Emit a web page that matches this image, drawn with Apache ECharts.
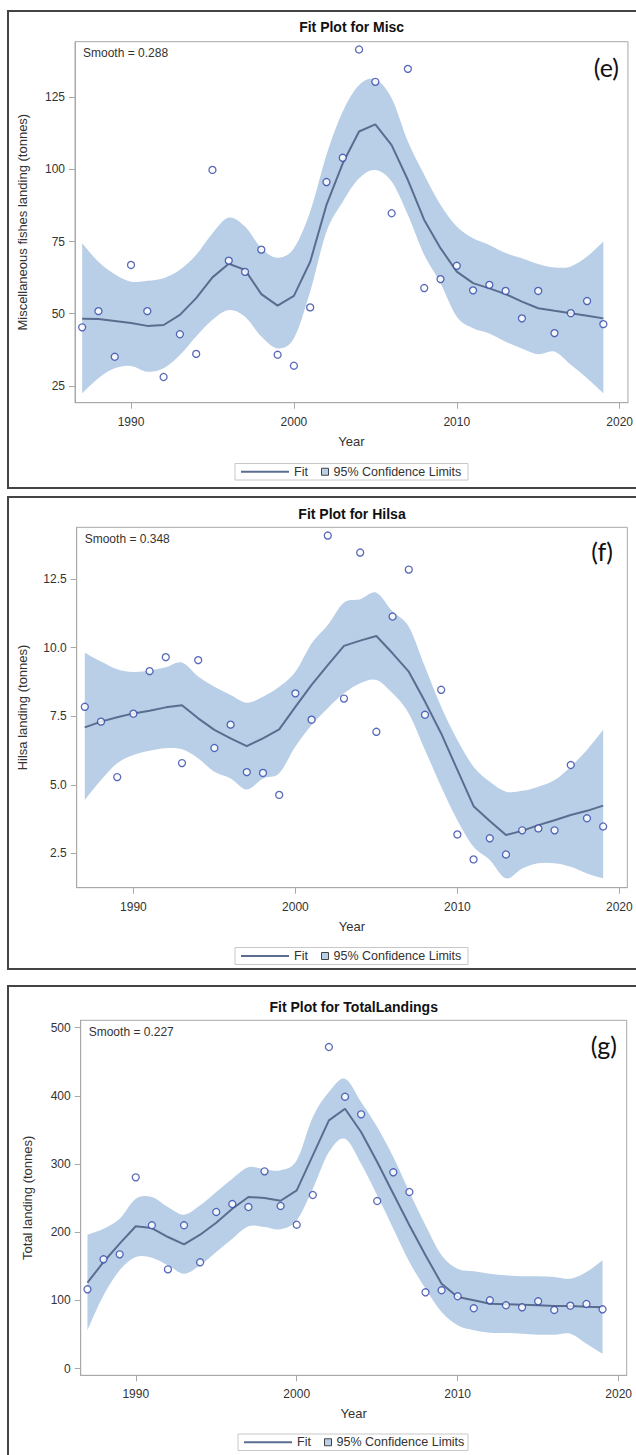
<!DOCTYPE html>
<html><head><meta charset="utf-8">
<script src="https://cdn.jsdelivr.net/npm/echarts@6/dist/echarts.min.js"></script>
<style>html,body{margin:0;padding:0;background:#fff}#c{width:636px;height:1455px}</style>
</head><body><div id="c"></div>
<script>
// ---------- data ----------
const years = [1987,1988,1989,1990,1991,1992,1993,1994,1995,1996,1997,1998,1999,2000,2001,2002,2003,2004,2005,2006,2007,2008,2009,2010,2011,2012,2013,2014,2015,2016,2017,2018,2019];
const xTicks = [1990, 2000, 2010, 2020];

const miscObs   = [45.3,50.9,35.1,66.9,50.9,28.1,42.9,36.1,99.8,68.4,64.5,72.2,35.8,32.0,52.2,95.6,104.0,141.5,130.3,84.8,134.8,58.9,62.0,66.6,58.1,60.0,57.9,48.4,57.9,43.3,50.2,54.4,46.4];
const miscFit   = [48.3,48.2,47.5,46.8,45.8,46.1,49.6,55.4,62.6,67.3,65.2,56.8,52.8,56.2,68.0,87.7,102.1,113.1,115.6,108.4,96.3,82.5,72.7,64.6,60.6,58.8,56.8,54.2,51.9,51.0,50.2,49.3,48.4];
const miscUpper = [74.4,68.0,63.7,61.1,61.4,62.3,65.2,70.4,77.9,83.3,80.2,72.7,69.4,72.7,85.4,105.0,120.0,129.2,131.2,124.6,109.6,98.1,87.7,80.2,76.1,73.8,71.0,69.2,67.2,66.0,66.4,69.8,75.0];
const miscLower = [22.5,27.7,31.1,31.9,29.9,31.1,35.7,42.1,47.9,51.3,49.0,42.1,38.0,41.5,57.7,78.4,88.8,96.9,99.8,95.8,84.2,70.4,60.6,49.0,45.0,43.2,40.3,38.0,36.0,36.9,32.3,27.7,22.5];
const miscTicks = [25, 50, 75, 100, 125];

const hilsaObs   = [7.84,7.30,5.28,7.59,9.14,9.65,5.79,9.54,6.34,7.19,5.46,5.43,4.63,8.33,7.37,14.08,8.14,13.46,6.93,11.13,12.84,7.55,8.46,3.19,2.28,3.05,2.46,3.34,3.41,3.34,5.72,3.78,3.48];
const hilsaFit   = [7.09,7.30,7.46,7.60,7.70,7.82,7.90,7.42,7.00,6.69,6.41,6.69,7.02,7.84,8.64,9.36,10.06,10.25,10.42,9.79,9.12,8.03,6.87,5.54,4.22,3.68,3.17,3.32,3.53,3.71,3.90,4.05,4.24];
const hilsaUpper = [9.81,9.49,9.21,9.11,9.16,9.28,9.45,8.94,8.57,8.27,7.99,8.21,8.57,9.12,10.15,10.82,11.64,11.76,12.00,11.31,10.76,9.30,7.84,6.63,5.66,5.11,4.75,4.78,4.93,5.17,5.66,6.27,7.00];
const hilsaLower = [4.44,5.17,5.78,6.08,6.24,6.33,6.29,5.96,5.47,5.23,4.83,5.23,5.42,6.39,7.18,7.79,8.33,8.70,8.82,8.33,7.60,6.27,4.93,3.71,2.74,2.26,1.59,1.95,2.14,2.14,2.01,1.77,1.59];
const hilsaTicks = [2.5, 5.0, 7.5, 10.0, 12.5];

const totalObs   = [116.4,160.4,167.7,280.6,210.3,145.7,210.3,156.0,229.8,241.5,237.1,289.4,238.6,211.1,254.7,471.7,398.8,373.0,245.9,288.0,259.1,112.0,115.0,106.2,88.6,100.3,93.0,90.0,98.8,86.1,92.4,94.9,87.1];
const totalFit   = [126.1,156.5,183.3,208.8,206.3,193.1,182.4,196.5,214.1,234.6,251.8,250.3,246.3,261.6,312.9,364.2,381.2,347.1,303.1,256.6,210.3,166.3,124.6,105.1,100.3,95.3,94.4,93.8,93.0,91.9,91.9,90.9,90.0];
const totalUpper = [196.5,205.3,219.9,249.3,251.8,237.1,225.8,239.6,259.1,278.6,295.3,292.4,290.9,305.6,369.1,405.7,425.2,391.1,354.4,310.4,259.1,210.3,166.3,146.6,142.8,139.3,136.9,135.5,135.5,134.5,132.0,141.8,159.0];
const totalLower = [56.3,107.6,144.3,163.8,162.8,151.6,139.3,151.6,171.1,190.6,208.8,207.8,204.4,217.6,263.9,317.7,337.2,300.6,254.3,205.3,156.5,117.3,83.1,63.6,56.3,52.8,52.3,51.3,49.9,49.9,51.3,36.7,22.0];
const totalTicks = [0, 100, 200, 300, 400, 500];

const titles = ['Fit Plot for Misc', 'Fit Plot for Hilsa', 'Fit Plot for TotalLandings'];
const yNames = ['Miscellaneous fishes landing (tonnes)', 'Hilsa landing (tonnes)', 'Total landing (tonnes)'];
const smoothTexts = ['Smooth = 0.288', 'Smooth = 0.348', 'Smooth = 0.227'];
const tags = ['(e)', '(f)', '(g)'];
const fitName = 'Fit';
const ciName = '95% Confidence Limits';

// ---------- layout / style ----------
const FONT = '"Liberation Sans", Arial, sans-serif';
const AX = '#a8a8a8';
const BAND = '#b9cfe7';
const FITC = '#5a6d90';
const MARK = '#2f44a6';

const panels = [
  { obs: miscObs, fit: miscFit, up: miscUpper, lo: miscLower, ticks: miscTicks, dec: 0,
    grid: {left: 75, top: 41.7, width: 553.3, height: 361}, x: [1986.56, 2020.51], y: [19.2, 144.2],
    box: [8, 11, 700, 477], leg: [235, 463.5, 233, 16.5], nameGap: 46, tagPos: [619, 67], titleTop: 19.7 },
  { obs: hilsaObs, fit: hilsaFit, up: hilsaUpper, lo: hilsaLower, ticks: hilsaTicks, dec: 1,
    grid: {left: 76.7, top: 527.3, width: 550.6, height: 360.4}, x: [1986.5, 2020.49], y: [1.25, 14.38],
    box: [8, 497, 700, 472], leg: [235, 947.5, 233, 17], nameGap: 48, tagPos: [613, 551], titleTop: 506.5 },
  { obs: totalObs, fit: totalFit, up: totalUpper, lo: totalLower, ticks: totalTicks, dec: 0,
    grid: {left: 80.7, top: 1020.3, width: 546, height: 355}, x: [1986.58, 2020.5], y: [-9.7, 510.9],
    box: [8, 986, 700, 600], leg: [238, 1434, 230, 16.5], nameGap: 47, tagPos: [617, 1045], titleTop: 999.5 }
];

const pairs = (arr) => years.map((yr, k) => [yr, arr[k]]);

// smooth (Catmull-Rom) path through pixel points
function curve(pts) {
  let d = '';
  for (let i = 0; i < pts.length - 1; i++) {
    const p0 = pts[i - 1] || pts[i], p1 = pts[i], p2 = pts[i + 1], p3 = pts[i + 2] || pts[i + 1];
    const c1 = [p1[0] + (p2[0] - p0[0]) / 6, p1[1] + (p2[1] - p0[1]) / 6];
    const c2 = [p2[0] - (p3[0] - p1[0]) / 6, p2[1] - (p3[1] - p1[1]) / 6];
    d += ' C' + c1[0] + ',' + c1[1] + ' ' + c2[0] + ',' + c2[1] + ' ' + p2[0] + ',' + p2[1];
  }
  return d;
}

const option = {
  animation: false,
  backgroundColor: '#fff',
  textStyle: { fontFamily: FONT },
  title: [], grid: [], xAxis: [], yAxis: [], series: [], legend: [], graphic: []
};

panels.forEach((p, i) => {
  const g = p.grid;
  const cx = g.left + g.width / 2;
  option.grid.push({ left: g.left, top: g.top, width: g.width, height: g.height, show: true,
    borderColor: AX, borderWidth: 1, backgroundColor: 'transparent', containLabel: false });
  option.title.push({ text: titles[i], left: cx, textAlign: 'center', top: p.titleTop, padding: 0,
    textStyle: { fontSize: 14, fontWeight: 'bold', color: '#111', fontFamily: FONT } });
  option.xAxis.push({ type: 'value', gridIndex: i, min: p.x[0], max: p.x[1],
    name: 'Year', nameLocation: 'middle', nameGap: 32,
    nameTextStyle: { fontSize: 13, color: '#333', fontFamily: FONT },
    axisLine: { show: true, onZero: false, lineStyle: { color: AX, width: 1 } },
    axisTick: { show: true, customValues: xTicks, length: 6, lineStyle: { color: AX } },
    axisLabel: { customValues: xTicks, fontSize: 12, color: '#333', margin: 13, fontFamily: FONT,
      formatter: (v) => String(v) },
    splitLine: { show: false } });
  option.yAxis.push({ type: 'value', gridIndex: i, min: p.y[0], max: p.y[1],
    name: yNames[i], nameLocation: 'middle', nameGap: p.nameGap,
    nameTextStyle: { fontSize: 13, color: '#333', fontFamily: FONT },
    axisLine: { show: true, onZero: false, lineStyle: { color: AX, width: 1 } },
    axisTick: { show: true, customValues: p.ticks, length: 6, lineStyle: { color: AX } },
    axisLabel: { customValues: p.ticks, fontSize: 12, color: '#333', margin: 10, fontFamily: FONT,
      formatter: (v) => v.toFixed(p.dec) },
    splitLine: { show: false } });

  // confidence band drawn through the axes' scales
  option.series.push({ type: 'custom', name: ciName, xAxisIndex: i, yAxisIndex: i,
    data: years.map((yr, k) => [yr, p.lo[k], p.up[k]]),
    encode: { x: 0, y: [1, 2] },
    itemStyle: { color: BAND },
    renderItem: (params, api) => {
      if (params.dataIndex !== 0) return null;
      const top = years.map((yr, k) => api.coord([yr, p.up[k]]));
      const bot = years.map((yr, k) => api.coord([yr, p.lo[k]])).reverse();
      const d = 'M' + top[0][0] + ',' + top[0][1] + curve(top) +
        ' L' + bot[0][0] + ',' + bot[0][1] + curve(bot) + ' Z';
      return { type: 'path', shape: { pathData: d }, style: { fill: BAND, stroke: 'none' }, silent: true };
    },
    silent: true, z: 1 });
  option.series.push({ type: 'line', name: fitName, xAxisIndex: i, yAxisIndex: i,
    data: pairs(p.fit), symbol: 'none', smooth: false,
    itemStyle: { color: FITC }, lineStyle: { color: FITC, width: 2 }, z: 3 });
  option.series.push({ type: 'scatter', name: 'obs' + i, xAxisIndex: i, yAxisIndex: i,
    data: pairs(p.obs), symbol: 'circle', symbolSize: 7,
    itemStyle: { color: '#fff', borderColor: MARK, borderWidth: 1.3 }, z: 4 });

  const L = p.leg;
  const cy = L[1] + L[3] / 2;
  option.legend.push({ left: L[0] + 6, top: cy - 7, padding: 0, itemWidth: 48, itemHeight: 2,
    selectedMode: false, data: [{ name: fitName, icon: 'rect', itemStyle: { color: FITC } }],
    textStyle: { fontSize: 12.5, color: '#333', fontFamily: FONT, lineHeight: 14 } });
  option.legend.push({ left: L[0] + 86, top: cy - 7, padding: 0, itemWidth: 7, itemHeight: 7,
    selectedMode: false,
    data: [{ name: ciName, icon: 'rect', itemStyle: { color: BAND, borderColor: '#444', borderWidth: 1 } }],
    textStyle: { fontSize: 12.5, color: '#333', fontFamily: FONT, lineHeight: 14 } });

  option.graphic.push({ type: 'rect', shape: { x: p.box[0], y: p.box[1], width: p.box[2], height: p.box[3] },
    style: { fill: 'none', stroke: '#444', lineWidth: 2 }, silent: true, z: 10 });
  option.graphic.push({ type: 'rect', shape: { x: L[0], y: L[1], width: L[2], height: L[3] },
    style: { fill: 'none', stroke: '#c8c8c8', lineWidth: 1 }, silent: true });
  option.graphic.push({ type: 'text', x: g.left + 8, y: g.top + 11.7,
    style: { text: smoothTexts[i], font: '12px ' + FONT, fill: '#333', textAlign: 'left', textVerticalAlign: 'middle' }, silent: true, z: 10 });
  option.graphic.push({ type: 'text', x: p.tagPos[0], y: p.tagPos[1],
    style: { text: tags[i], font: '25px Lato, "Open Sans", sans-serif', fill: '#111', textAlign: 'right', textVerticalAlign: 'middle' }, silent: true, z: 10 });
});

const chart = echarts.init(document.getElementById('c'), null, { renderer: 'svg', width: 636, height: 1455 });
chart.setOption(option);
</script></body></html>
